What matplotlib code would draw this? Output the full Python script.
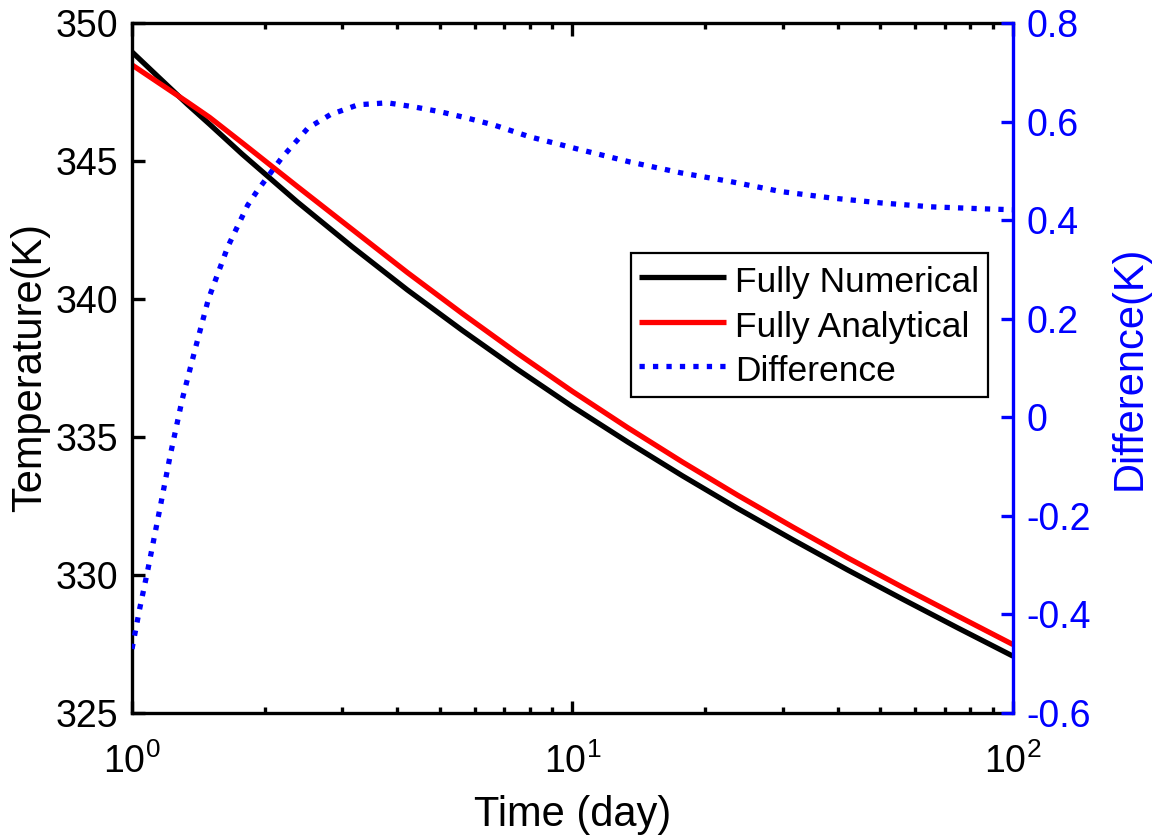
import matplotlib
matplotlib.use("Agg")
import matplotlib.pyplot as plt
from matplotlib.lines import Line2D
from matplotlib.ticker import FixedLocator, FuncFormatter, LogLocator, NullFormatter

# ---- data -------------------------------------------------------------
time_temp = [1, 1.15, 1.334, 1.5, 1.778, 2.371, 3.162, 4.217, 5.623, 7.499, 10,
             13.34, 17.78, 23.71, 31.62, 42.17, 56.23, 74.99, 100]
temp_numerical = [348.95, 348.03, 347.06, 346.33, 345.25, 343.52, 341.89, 340.33,
                  338.86, 337.45, 336.10, 334.82, 333.59, 332.41, 331.28, 330.18,
                  329.12, 328.08, 327.06]
temp_analytical = [348.48, 347.83, 347.14, 346.58, 345.66, 344.08, 342.52, 340.96,
                   339.47, 338.03, 336.65, 335.34, 334.09, 332.89, 331.74, 330.62,
                   329.55, 328.51, 327.48]

time_diff = [1.0, 1.04, 1.087, 1.16, 1.22, 1.30, 1.39, 1.49, 1.65, 1.83, 1.92, 2.19,
             2.51, 2.82, 3.26, 3.80, 4.35, 5.0, 5.77, 6.63, 8.0, 10.4, 13.5, 17.6,
             22.9, 29.7, 38.6, 50, 65, 85, 100]
difference = [-0.470, -0.390, -0.308, -0.180, -0.079, 0.036, 0.137, 0.239, 0.346,
              0.430, 0.458, 0.527, 0.587, 0.614, 0.634, 0.638, 0.630, 0.620, 0.607,
              0.593, 0.569, 0.543, 0.518, 0.496, 0.478, 0.458, 0.445, 0.435, 0.427,
              0.423, 0.421]

temp_ticks = [325, 330, 335, 340, 345, 350]
diff_ticks = [-0.6, -0.4, -0.2, 0, 0.2, 0.4, 0.6, 0.8]
time_ticks = [1, 10, 100]
time_tick_labels = [r"$10^{0}$", r"$10^{1}$", r"$10^{2}$"]

series_labels = ["Fully Numerical", "Fully Analytical", "Difference"]

# ---- style ------------------------------------------------------------
plt.rcParams["font.family"] = ["Liberation Sans", "DejaVu Sans"]
plt.rcParams["mathtext.fontset"] = "custom"
plt.rcParams["mathtext.rm"] = "Liberation Sans"
plt.rcParams["mathtext.it"] = "Liberation Sans"
plt.rcParams["axes.unicode_minus"] = False

TICK_FS = 27
LABEL_FS = 30
LEGEND_FS = 25.5
BLUE = "#0000FF"
RED = "#FF0000"
LW = 3.8
SPINE_W = 2.4
DOTS = (0, (1.0, 1.55))

fig = plt.figure(figsize=(11.55, 8.38), dpi=100)
ax = fig.add_axes([0.1143, 0.1492, 0.7627, 0.8234])
ax2 = ax.twinx()

# temperature curves
ax.plot(time_temp, temp_numerical, color="black", lw=LW, solid_capstyle="butt",
        solid_joinstyle="round")
ax.plot(time_temp, temp_analytical, color=RED, lw=LW, solid_capstyle="butt",
        solid_joinstyle="round")

ax.set_xscale("log")
ax.set_xlim(1, 100)
ax.set_ylim(325, 350)
ax.xaxis.set_major_locator(FixedLocator(time_ticks))
ax.set_xticklabels(time_tick_labels)
ax.xaxis.set_minor_locator(LogLocator(base=10, subs=range(2, 10)))
ax.xaxis.set_minor_formatter(NullFormatter())
ax.set_yticks(temp_ticks)

ax.tick_params(axis="x", which="major", direction="in", length=9, width=SPINE_W,
               top=True, bottom=True, labelsize=TICK_FS, pad=22)
ax.tick_params(axis="x", which="minor", direction="in", length=4, width=SPINE_W,
               top=True, bottom=True)
ax.tick_params(axis="y", which="major", direction="in", length=9, width=SPINE_W,
               left=True, right=False, labelsize=TICK_FS, pad=10)

for side in ("left", "top", "bottom"):
    ax.spines[side].set_linewidth(SPINE_W)
    ax.spines[side].set_color("black")
ax.spines["right"].set_visible(False)

ax.set_xlabel("Time (day)", fontsize=LABEL_FS, labelpad=10)
ax.set_ylabel("Temperature(K)", fontsize=LABEL_FS, labelpad=4)

# difference curve on the right axis
ax2.plot(time_diff, difference, color=BLUE, lw=LW, linestyle=DOTS,
         dash_capstyle="butt")
ax2.set_ylim(-0.6, 0.8)
ax2.set_yticks(diff_ticks)
ax2.yaxis.set_major_formatter(FuncFormatter(lambda v, p: f"{round(v, 1):g}"))
ax2.tick_params(axis="y", which="major", direction="in", length=9, width=SPINE_W,
                colors=BLUE, labelsize=TICK_FS, pad=10)
for side in ("left", "top", "bottom"):
    ax2.spines[side].set_visible(False)
ax2.spines["right"].set_color(BLUE)
ax2.spines["right"].set_linewidth(SPINE_W)
ax2.set_ylabel("Difference(K)", fontsize=LABEL_FS, color=BLUE, rotation=90,
               labelpad=13)

# legend
handles = [
    Line2D([], [], color="black", lw=LW, solid_capstyle="butt"),
    Line2D([], [], color=RED, lw=LW, solid_capstyle="butt"),
    Line2D([], [], color=BLUE, lw=LW, linestyle=DOTS, dash_capstyle="butt"),
]
leg = ax2.legend(handles, series_labels, loc="upper left",
                 bbox_to_anchor=(0.566, 0.667), bbox_transform=ax.transAxes,
                 fontsize=LEGEND_FS, frameon=True, fancybox=False, shadow=False,
                 borderaxespad=0, borderpad=0.25, handlelength=2.45,
                 handleheight=1.2, handletextpad=0.25, labelspacing=0.22)
leg.get_frame().set_edgecolor("black")
leg.get_frame().set_linewidth(1.6)
leg.get_frame().set_facecolor("white")
leg.get_frame().set_alpha(1)

fig.savefig("out.png", dpi=100, facecolor="white")
